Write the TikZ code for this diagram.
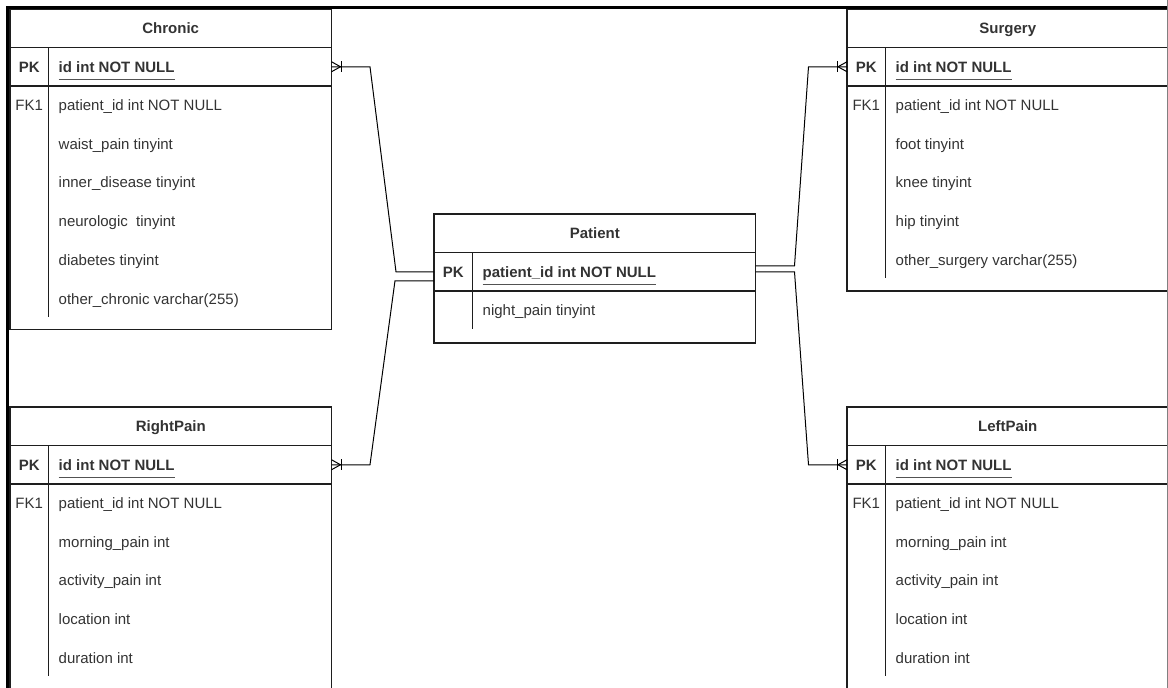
\documentclass[tikz,border=0pt]{standalone}
\usepackage{fontspec}
\setmainfont{Liberation Sans}
\usepackage{tikz}
\usetikzlibrary{calc, positioning}
\definecolor{maintext}{RGB}{51,51,51}
\definecolor{mainline}{RGB}{30,30,30}
\tikzset{
  tbl/.style={draw=mainline, line width=1.1pt},
  rel/.style={draw=black, line width=1pt},
  txt/.style={font=\fontsize{15}{18}\selectfont, text=maintext, inner sep=0pt,
    text height=10.5pt, text depth=0pt},
  ttlbox/.style={tbl, txt, font=\fontsize{15}{18}\selectfont\bfseries, anchor=north west,
    minimum width=321.5pt, minimum height=38.5pt, outer sep=0pt},
  rowbox/.style={tbl, anchor=north west, minimum width=321.5pt, minimum height=38.5pt,
    outer sep=0pt, inner sep=0pt},
  pkkey/.style={txt, font=\fontsize{15}{18}\selectfont\bfseries},
  fkkey/.style={txt},
  fld/.style={txt, anchor=west},
  pkfld/.style={fld, font=\fontsize{15}{18}\selectfont\bfseries},
  uline/.style={draw=maintext!85, line width=1.3pt},
  manyside/.pic={
    \draw[rel] (0,-5) -- (9,0) -- (0,5);
    \draw[rel] (10,-5.5) -- (10,5.5);
  }
}

\begin{document}
\begin{tikzpicture}[x=1pt, y=-1pt]
    \clip (0,0) rectangle (1168,688);

    % Chronic
    \node[ttlbox] (chronic) at (10,9) {Chronic};
    \node[rowbox] (chronic-pk) at (chronic.south west) {};
    \draw[tbl] (chronic-pk.south west) rectangle ++(321.5,243.5);
    \draw[tbl] ([xshift=38.5pt]chronic.south west) -- ++(0,269.5);
    \node[pkkey] (chronic-pkk) at ($(chronic-pk.west)+(19.25,0)$) {PK};
    \node[pkfld] (chronic-id) at ($(chronic-pk.west)+(48.5,0)$) {id int NOT NULL};
    \node[fkkey] (chronic-fk) at ($(chronic-pk.south west)+(19.25,19)$) {FK1};
    \foreach \f [count=\i from 0] in {patient\_id int NOT NULL, waist\_pain tinyint,
        inner\_disease tinyint, neurologic\ \ tinyint, diabetes tinyint,
        other\_chronic varchar(255)}
      \node[fld] (chronic-f\i) at ($(chronic-pk.south west)+(48.5,19+38.8*\i)$) {\f};

    % Surgery
    \node[ttlbox] (surgery) at (847,9) {Surgery};
    \node[rowbox] (surgery-pk) at (surgery.south west) {};
    \draw[tbl] (surgery-pk.south west) rectangle ++(321.5,205);
    \draw[tbl] ([xshift=38.5pt]surgery.south west) -- ++(0,230.5);
    \node[pkkey] (surgery-pkk) at ($(surgery-pk.west)+(19.25,0)$) {PK};
    \node[pkfld] (surgery-id) at ($(surgery-pk.west)+(48.5,0)$) {id int NOT NULL};
    \node[fkkey] (surgery-fk) at ($(surgery-pk.south west)+(19.25,19)$) {FK1};
    \foreach \f [count=\i from 0] in {patient\_id int NOT NULL, foot tinyint,
        knee tinyint, hip tinyint, other\_surgery varchar(255)}
      \node[fld] (surgery-f\i) at ($(surgery-pk.south west)+(48.5,19+38.8*\i)$) {\f};

    % Patient
    \node[ttlbox] (patient) at (434,214) {Patient};
    \node[rowbox] (patient-pk) at (patient.south west) {};
    \draw[tbl] (patient-pk.south west) rectangle ++(321.5,52);
    \draw[tbl] ([xshift=38.5pt]patient.south west) -- ++(0,76.5);
    \node[pkkey] (patient-pkk) at ($(patient-pk.west)+(19.25,0)$) {PK};
    \node[pkfld] (patient-id) at ($(patient-pk.west)+(48.5,0)$) {patient\_id int NOT NULL};
    \node[fld] (patient-f0) at ($(patient-pk.south west)+(48.5,19.5)$) {night\_pain tinyint};

    % RightPain
    \node[ttlbox] (rightpain) at (10,407) {RightPain};
    \node[rowbox] (rightpain-pk) at (rightpain.south west) {};
    \draw[tbl] (rightpain-pk.south west) rectangle ++(321.5,300);
    \draw[tbl] ([xshift=38.5pt]rightpain.south west) -- ++(0,230.5);
    \node[pkkey] (rightpain-pkk) at ($(rightpain-pk.west)+(19.25,0)$) {PK};
    \node[pkfld] (rightpain-id) at ($(rightpain-pk.west)+(48.5,0)$) {id int NOT NULL};
    \node[fkkey] (rightpain-fk) at ($(rightpain-pk.south west)+(19.25,19)$) {FK1};
    \foreach \f [count=\i from 0] in {patient\_id int NOT NULL, morning\_pain int,
        activity\_pain int, location int, duration int}
      \node[fld] (rightpain-f\i) at ($(rightpain-pk.south west)+(48.5,19+38.8*\i)$) {\f};

    % LeftPain
    \node[ttlbox] (leftpain) at (847,407) {LeftPain};
    \node[rowbox] (leftpain-pk) at (leftpain.south west) {};
    \draw[tbl] (leftpain-pk.south west) rectangle ++(321.5,300);
    \draw[tbl] ([xshift=38.5pt]leftpain.south west) -- ++(0,230.5);
    \node[pkkey] (leftpain-pkk) at ($(leftpain-pk.west)+(19.25,0)$) {PK};
    \node[pkfld] (leftpain-id) at ($(leftpain-pk.west)+(48.5,0)$) {id int NOT NULL};
    \node[fkkey] (leftpain-fk) at ($(leftpain-pk.south west)+(19.25,19)$) {FK1};
    \foreach \f [count=\i from 0] in {patient\_id int NOT NULL, morning\_pain int,
        activity\_pain int, location int, duration int}
      \node[fld] (leftpain-f\i) at ($(leftpain-pk.south west)+(48.5,19+38.8*\i)$) {\f};

    % Schluessel unterstreichen
    \foreach \n in {chronic-id, surgery-id, patient-id, rightpain-id, leftpain-id}
      \draw[uline] ([yshift=-7pt]\n.south west) -- ([yshift=-7pt]\n.south east);

    % Beziehungen
    \draw[rel] (chronic-pk.east) -- ++(38.5,0) -- ($(patient-pk.west)+(-38,0)$) -- (patient-pk.west);
    \draw[rel] (rightpain-pk.east) -- ++(38.5,0) -- ($(patient-pk.west)+(-39,9)$) -- ($(patient-pk.west)+(0,9)$);
    \draw[rel] (surgery-pk.west) -- ++(-38.5,0) -- ($(patient-pk.east)+(39,-6)$) -- ($(patient-pk.east)+(0,-6)$);
    \draw[rel] (leftpain-pk.west) -- ++(-38.5,0) -- ($(patient-pk.east)+(39,0)$) -- (patient-pk.east);
    \pic at (chronic-pk.east) {manyside};
    \pic at (rightpain-pk.east) {manyside};
    \pic[xscale=-1] at (surgery-pk.west) {manyside};
    \pic[xscale=-1] at (leftpain-pk.west) {manyside};

    % Rahmen
    \draw[line width=2.5pt] (7.5,688) -- (7.5,7.5) -- (1168,7.5);
    \draw[gray, line width=1pt] (1167.5,0) -- (1167.5,688);
\end{tikzpicture}
\end{document}
